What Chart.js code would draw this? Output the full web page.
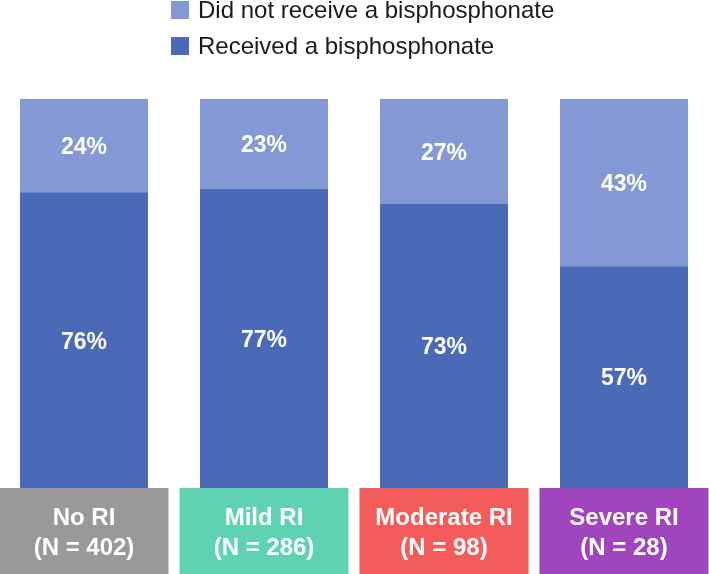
<!DOCTYPE html>
<html>
<head>
<meta charset="utf-8">
<script src="https://cdn.jsdelivr.net/npm/chart.js@4/dist/chart.umd.min.js"></script>
<style>
  body { margin: 0; background: #fff; overflow: hidden; }
  #wrap { position: relative; width: 709px; height: 574px; overflow: hidden; }
  #chart { position: absolute; left: -6px; top: 0; }
</style>
</head>
<body>
<div id="wrap"><canvas id="chart" width="720" height="574"></canvas></div>
<script>
// categories and values (percent)
let groups = ["No RI", "Mild RI", "Moderate RI", "Severe RI"];
let groupN = ["(N = 402)", "(N = 286)", "(N = 98)", "(N = 28)"];
let received = [76, 77, 73, 57];
let notReceived = [24, 23, 27, 43];
let groupColors = ["#999999", "#5fd3b0", "#f45b5b", "#a045bd"];

// draws the white % labels inside each segment
let segmentLabels = {
  id: "segmentLabels",
  afterDatasetsDraw(chart) {
    let ctx = chart.ctx;
    ctx.save();
    ctx.fillStyle = "#ffffff";
    ctx.font = "bold 23px 'Liberation Sans', Arial, sans-serif";
    ctx.textAlign = "center";
    ctx.textBaseline = "middle";
    chart.data.datasets.forEach((ds, i) => {
      let meta = chart.getDatasetMeta(i);
      meta.data.forEach((bar, j) => {
        let y = (bar.y + bar.base) / 2;
        ctx.fillText(ds.data[j] + "%", bar.x, y + 2);
      });
    });
    ctx.restore();
  },
};

// coloured group boxes under the bars
let groupBoxes = {
  id: "groupBoxes",
  afterDraw(chart) {
    let ctx = chart.ctx;
    let xs = chart.scales.x;
    let top = chart.chartArea.bottom;
    let h = chart.height - top;
    ctx.save();
    groups.forEach((g, i) => {
      let cx = xs.getPixelForValue(i);
      ctx.fillStyle = groupColors[i];
      ctx.fillRect(cx - 84.5, top, 169, h);
      ctx.fillStyle = "#ffffff";
      ctx.font = "bold 24px 'Liberation Sans', Arial, sans-serif";
      ctx.textAlign = "center";
      ctx.textBaseline = "middle";
      ctx.fillText(g, cx, top + 30);
      ctx.fillText(groupN[i], cx, top + 60);
    });
    ctx.restore();
  },
};

// vertical legend at the top
let stackLegend = {
  id: "stackLegend",
  afterDraw(chart) {
    let ctx = chart.ctx;
    let items = chart.data.datasets.slice().reverse();
    ctx.save();
    ctx.font = "24px 'Liberation Sans', Arial, sans-serif";
    ctx.textAlign = "left";
    ctx.textBaseline = "middle";
    items.forEach((ds, i) => {
      let y = 10 + i * 36;
      ctx.fillStyle = ds.backgroundColor;
      ctx.fillRect(177, y - 9, 18, 18);
      ctx.fillStyle = "#1a1a1a";
      ctx.fillText(ds.label, 204, y + 1);
    });
    ctx.restore();
  },
};

let chart = new Chart(document.getElementById("chart"), {
  type: "bar",
  data: {
    labels: groups,
    datasets: [
      {
        label: "Received a bisphosphonate",
        data: received,
        backgroundColor: "#4a69b6",
      },
      {
        label: "Did not receive a bisphosphonate",
        data: notReceived,
        backgroundColor: "#8398d4",
      },
    ],
  },
  options: {
    responsive: false,
    animation: false,
    devicePixelRatio: 1,
    layout: { padding: { top: 99, bottom: 86, left: 0, right: 0 } },
    datasets: {
      bar: { barPercentage: 0.711, categoryPercentage: 1, borderWidth: 0 },
    },
    scales: {
      x: { stacked: true, display: false },
      y: { stacked: true, display: false, min: 0, max: 100 },
    },
    plugins: {
      legend: { display: false },
      tooltip: { enabled: false },
    },
  },
  plugins: [segmentLabels, groupBoxes, stackLegend],
});
</script>
</body>
</html>
